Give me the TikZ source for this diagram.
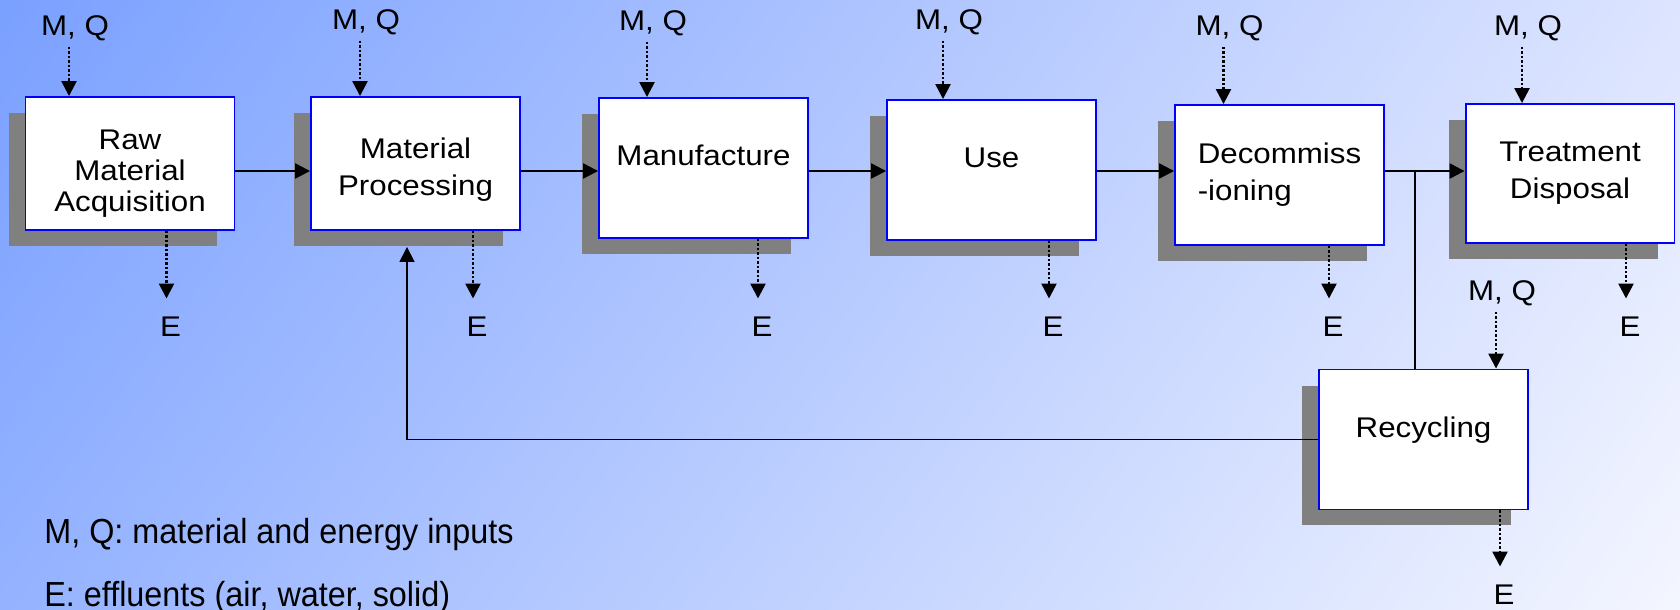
\documentclass[tikz,border=0pt]{standalone}
\usepackage{fontspec}
\setmainfont{Liberation Sans}[FakeStretch=1.10]
\newfontfamily\narrowsans{Liberation Sans}[FakeStretch=0.93]
\usepackage{xcolor}
\usepackage{tikz}
\usetikzlibrary{arrows.meta,shadows,shadings}
\definecolor{bgTL}{RGB}{122,160,255}
\definecolor{bgTR}{RGB}{220,228,255}
\definecolor{bgBL}{RGB}{148,178,255}
\definecolor{bgBR}{RGB}{244,246,255}
\colorlet{boxline}{blue}
\colorlet{shadowgray}{gray}
\tikzset{
  stage/.style={draw=boxline,line width=1.1pt,fill=white,minimum width=4.18cm,minimum height=2.8cm,
    align=center,font=\fontsize{16.2}{21}\selectfont,
    drop shadow={shadow xshift=-0.34cm,shadow yshift=-0.32cm,fill=shadowgray,opacity=1}},
  uptext/.style={text depth=0.5cm},
  downtext/.style={text height=#1},
  lbl/.style={font=\fontsize{16.2}{20}\selectfont},
  keytext/.style={font=\narrowsans\fontsize{19.8}{24}\selectfont,anchor=base west,inner sep=0pt},
  flow/.style={->,line width=1.3pt},
  inout/.style={->,line width=1.4pt,dash pattern=on 0.045cm off 0.045cm}
}

\begin{document}
\begin{tikzpicture}[x=0.02cm,y=-0.02cm,>={Triangle[length=0.3cm,width=0.3cm]}]
\useasboundingbox (0,0) rectangle (1680,609);
\shade[upper left=bgTL,upper right=bgTR,lower left=bgBL,lower right=bgBR] (0,0) rectangle (1680,609);
% life cycle stages
\node[stage,minimum height=2.66cm,downtext=58pt,font=\fontsize{16.2}{17.6}\selectfont] (raw) at (130,163.5) {Raw\\Material\\Acquisition};
\node[stage,minimum height=2.66cm,downtext=40pt] (proc) at (415.5,163.5) {Material\\Processing};
\node[stage,uptext] (manu) at (703.5,168) {Manufacture};
\node[stage,uptext] (use) at (991.5,170) {Use};
\node[stage,align=left] (decom) at (1279.5,175) {Decommiss\\-ioning};
\node[stage,minimum height=2.78cm] (treat) at (1570,173.5) {Treatment\\Disposal};
\node[stage,uptext] (recyc) at (1423.5,439.5) {Recycling};
% main flow and recycling loop
\coordinate (main) at (0,171); \coordinate (split) at (1415,171);
\foreach \a/\b in {raw/proc,proc/manu,manu/use,use/decom,decom/treat}
  \draw[flow] (\a.east |- main) -- (\b.west |- main);
\draw[line width=1pt] (split) -- (split |- recyc.north);
\draw[flow,line width=1pt,shorten >=0.32cm] (recyc.west) -| ([xshift=-0.17cm]proc.south);
% inputs
\foreach \n/\x/\y in {mqa/75/28,mqb/366/22,mqc/653/23,mqd/949/22,mqe/1229.5/28,mqf/1528/28,mqg/1502/293}
  \node[lbl] (\n) at (\x,\y) {M, Q};
\foreach \n/\b in {mqa/raw,mqb/proc,mqc/manu,mqd/use,mqe/decom,mqf/treat,mqg/recyc}
  \draw[inout] ([xshift=-0.12cm]\n.south) -- ([xshift=-0.12cm]\n.south |- \b.north);
% effluents
\foreach \n/\x/\y in {ea/170.5/327,eb/477/327,ec/762/327,ed/1053/327,ee/1333/327,ef/1630/327,eg/1504/595}
  \node[lbl] (\n) at (\x,\y) {E};
\foreach \n/\b in {ea/raw,eb/proc,ec/manu,ed/use,ee/decom,ef/treat,eg/recyc}
  \draw[inout,shorten >=0.25cm] ([xshift=-0.08cm]\n.north |- \b.south) -- ([xshift=-0.08cm]\n.north);
% key
\node[keytext] (keymq) at (44,543) {M, Q: material and energy inputs};
\node[keytext] (keye) at (44,606) {E: effluents (air, water, solid)};
\end{tikzpicture}
\end{document}
